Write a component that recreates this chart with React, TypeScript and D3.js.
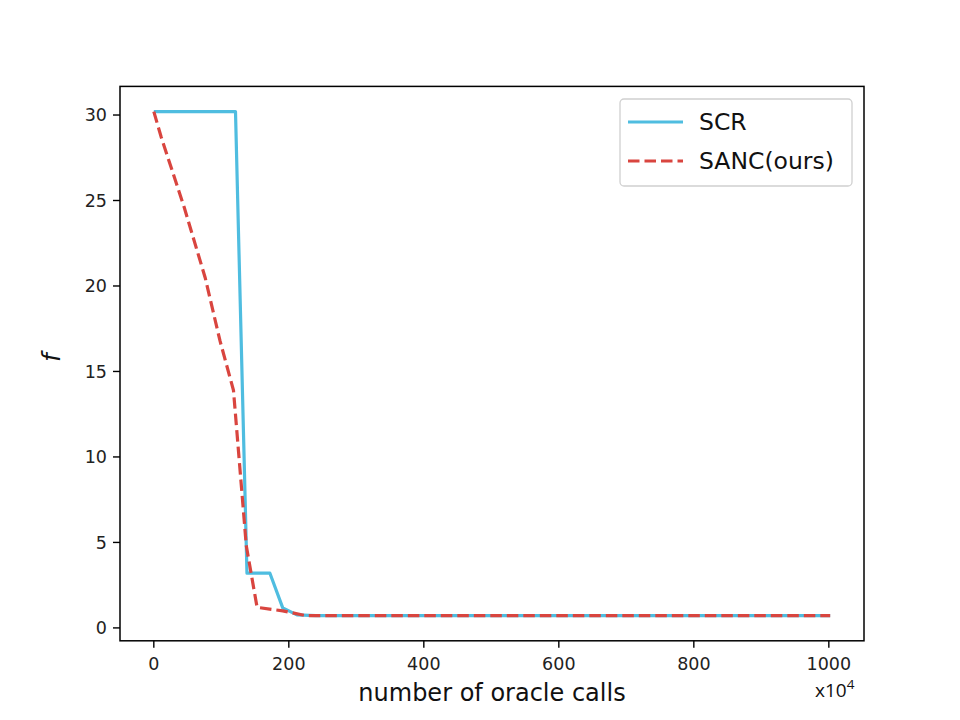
import React from "react";
import * as d3 from "d3";

const scrX = [0, 121, 138, 172, 191, 212, 240, 1002];
const scrY = [30.2, 30.2, 3.2, 3.2, 1.17, 0.76, 0.72, 0.72];
const sancX = [0, 11, 45, 76, 98, 118, 137, 153, 191, 225, 1002];
const sancY = [30.2, 28.7, 24.6, 20.5, 16.8, 13.9, 4.8, 1.2, 1.0, 0.72, 0.72];
const xTicks = [0, 200, 400, 600, 800, 1000];
const yTicks = [0, 5, 10, 15, 20, 25, 30];
const seriesNames = ["SCR", "SANC(ours)"];

const W = 960, H = 720;
const L = 120, R = 864, T = 86.4, B = 640.8;
const BLUE = "#4fbde0";
const RED = "#d9453f";

export default function App() {
  const xMin = 0, xMax = 1002;
  const xPad = (xMax - xMin) * 0.05;
  const x = d3.scaleLinear().domain([xMin - xPad, xMax + xPad]).range([L, R]);
  const yMin = 0.72, yMax = 30.2;
  const yPad = (yMax - yMin) * 0.05;
  const y = d3.scaleLinear().domain([yMin - yPad, yMax + yPad]).range([B, T]);
  const line = d3.line<[number, number]>().x(d => x(d[0])).y(d => y(d[1]));
  const scr = line(scrX.map((v, i) => [v, scrY[i]] as [number, number])) || "";
  const sanc = line(sancX.map((v, i) => [v, sancY[i]] as [number, number])) || "";
  const tickFont = "DejaVu Sans, sans-serif";
  return (
    <svg width={W} height={H} style={{ display: "block", position: "absolute", left: 0, top: 0 }}>
      <rect x={0} y={0} width={W} height={H} fill="#fff" />
      <defs>
        <clipPath id="plot">
          <rect x={L} y={T} width={R - L} height={B - T} />
        </clipPath>
      </defs>
      <g clipPath="url(#plot)">
        <path d={scr} fill="none" stroke={BLUE} strokeWidth={3.2} strokeLinejoin="round" />
        <path d={sanc} fill="none" stroke={RED} strokeWidth={3.2} strokeDasharray="11.5,5" />
      </g>
      <rect x={L} y={T} width={R - L} height={B - T} fill="none" stroke="#000" strokeWidth={1.5} />
      {yTicks.map(t => (
        <g key={"y" + t}>
          <line x1={L - 7} x2={L} y1={y(t)} y2={y(t)} stroke="#000" strokeWidth={1.4} />
          <text x={L - 13} y={y(t)} dy="0.36em" textAnchor="end" fontFamily={tickFont} fontSize={17.5} fill="#222">{t}</text>
        </g>
      ))}
      {xTicks.map(t => (
        <g key={"x" + t}>
          <line x1={x(t)} x2={x(t)} y1={B} y2={B + 7} stroke="#000" strokeWidth={1.4} />
          <text x={x(t)} y={B + 29} textAnchor="middle" fontFamily={tickFont} fontSize={17.5} fill="#222">{t}</text>
        </g>
      ))}
      <text x={492} y={701} textAnchor="middle" fontFamily={tickFont} fontSize={24} fill="#111">number of oracle calls</text>
      <text x={815} y={697} fontFamily="Open Sans, sans-serif" fontSize={19} fill="#111">x10<tspan dy={-8} fontSize={13.5}>4</tspan></text>
      <text transform={`translate(60,${(T + B) / 2 - 6}) rotate(-90)`} textAnchor="middle" fontFamily={tickFont} fontStyle="italic" fontSize={24} fill="#111">f</text>
      <g>
        <rect x={620} y={99} width={232} height={87} rx={4} fill="#fff" fillOpacity={0.8} stroke="#d0d0d0" strokeWidth={1.3} />
        <line x1={628} x2={683} y1={122} y2={122} stroke={BLUE} strokeWidth={3.2} />
        <line x1={628} x2={683} y1={161} y2={161} stroke={RED} strokeWidth={3.2} strokeDasharray="11.5,5" />
        <text x={699} y={130} fontFamily={tickFont} fontSize={23.5} fill="#111">{seriesNames[0]}</text>
        <text x={699} y={169} fontFamily={tickFont} fontSize={23.5} fill="#111">{seriesNames[1]}</text>
      </g>
    </svg>
  );
}
